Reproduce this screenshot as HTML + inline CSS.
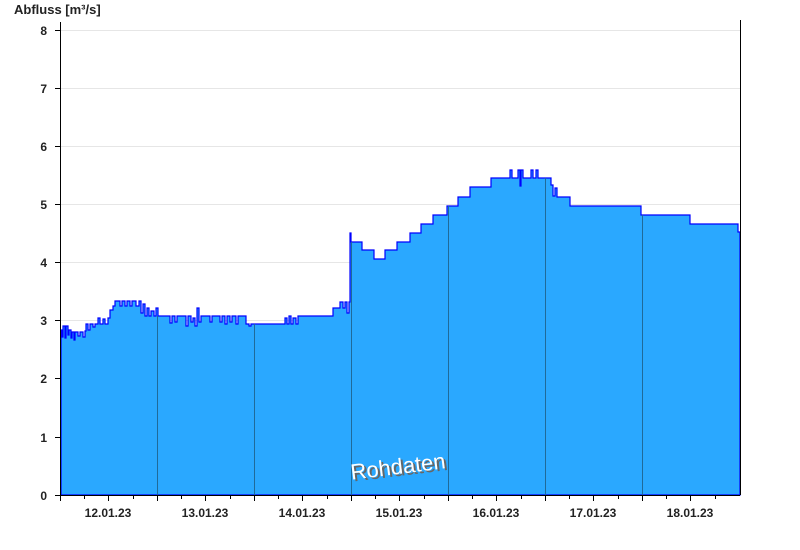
<!DOCTYPE html>
<html><head><meta charset="utf-8"><style>
html,body{margin:0;padding:0;background:#fff;}
svg{display:block;font-family:"Liberation Sans",Arial,sans-serif;}
</style></head><body>
<svg width="800" height="550" viewBox="0 0 800 550">
<g stroke="#e6e6e6" stroke-width="1">
<line x1="61" y1="30.5" x2="740" y2="30.5"/><line x1="61" y1="88.5" x2="740" y2="88.5"/>
<line x1="61" y1="146.5" x2="740" y2="146.5"/><line x1="61" y1="204.5" x2="740" y2="204.5"/>
<line x1="61" y1="262.5" x2="740" y2="262.5"/><line x1="61" y1="320.5" x2="740" y2="320.5"/>
<line x1="61" y1="378.5" x2="740" y2="378.5"/><line x1="61" y1="437.5" x2="740" y2="437.5"/>
</g>
<path fill="#2aa8ff" stroke="#0000ff" stroke-width="1.2" stroke-linejoin="miter" d="
M61,495 V330 H62 V337 H63 V326 H65 V338 H66 V326 H68 V335 H69 V330 H71 V338 H72 V332 H74 V340 H75 V332 H78 V336 H80 V332 H83 V337 H85 V331 H86 V324 H88 V330 H90 V324 H93 V327 H95 V324 H98 V318 H100 V324 H103 V319 H105 V324 H108 V318 H110 V310 H113 V306 H115 V301 H120 V306 H122 V301 H125 V306 H127 V301 H130 V306 H132 V301 H136 V306 H139 V301 H141 V313 H143 V304 H145 V316 H147 V308 H149 V316 H151 V311 H154 V316 H156 V308 H158 V316 H170 V323 H172 V316 H175 V322 H177 V316 H186 V326 H188 V316 H191 V322 H193 V318 H195 V326 H197 V308 H199 V322 H201 V316 H210 V322 H212 V316 H220 V322 H222 V316 H225 V324 H227 V316 H230 V322 H232 V316 H236 V324 H238 V316 H246 V324 H249 V326 H251 V324 H285 V318 H287 V324 H289 V316 H291 V324 H293 V318 H296 V324 H298 V316 H333 V308 H340 V302 H343 V308 H345 V302 H347 V313 H349 V302 H350 V233 H351 V242 H362 V250 H374 V259 H385 V250 H397 V242 H410 V233 H421 V224 H433 V215 H447 V206 H458 V197 H470 V187 H491 V178 H510 V170 H512 V178 H518 V170 H520 V186 H521 V170 H523 V178 H531 V170 H533 V178 H536 V170 H538 V178 H551 V185 H553 V196 H555 V188 H557 V197 H570 V206 H641 V215 H690 V224 H738 V232 H740 V495 Z"/>
<g stroke="#1f6a9a" stroke-width="1">
<line x1="157.5" y1="316" x2="157.5" y2="495"/><line x1="254.5" y1="324" x2="254.5" y2="495"/>
<line x1="351.5" y1="242" x2="351.5" y2="495"/><line x1="448.5" y1="206" x2="448.5" y2="495"/>
<line x1="545.5" y1="178" x2="545.5" y2="495"/><line x1="642.5" y1="215" x2="642.5" y2="495"/>
</g>
<line x1="740.5" y1="20" x2="740.5" y2="495" stroke="#000"/>
<line x1="60.5" y1="22" x2="60.5" y2="501" stroke="#000"/>
<line x1="55" y1="495.5" x2="740" y2="495.5" stroke="#000"/>
<g stroke="#000">
<line x1="55" y1="30.5" x2="60" y2="30.5"/><line x1="55" y1="88.5" x2="60" y2="88.5"/>
<line x1="55" y1="146.5" x2="60" y2="146.5"/><line x1="55" y1="204.5" x2="60" y2="204.5"/>
<line x1="55" y1="262.5" x2="60" y2="262.5"/><line x1="55" y1="320.5" x2="60" y2="320.5"/>
<line x1="55" y1="378.5" x2="60" y2="378.5"/><line x1="55" y1="437.5" x2="60" y2="437.5"/>
</g>
<g stroke="#000">
<line x1="84.5" y1="495" x2="84.5" y2="499"/><line x1="108.5" y1="495" x2="108.5" y2="501"/><line x1="133.5" y1="495" x2="133.5" y2="499"/><line x1="157.5" y1="495" x2="157.5" y2="501"/>
<line x1="181.5" y1="495" x2="181.5" y2="499"/><line x1="205.5" y1="495" x2="205.5" y2="501"/><line x1="230.5" y1="495" x2="230.5" y2="499"/><line x1="254.5" y1="495" x2="254.5" y2="501"/>
<line x1="278.5" y1="495" x2="278.5" y2="499"/><line x1="302.5" y1="495" x2="302.5" y2="501"/><line x1="327.5" y1="495" x2="327.5" y2="499"/><line x1="351.5" y1="495" x2="351.5" y2="501"/>
<line x1="375.5" y1="495" x2="375.5" y2="499"/><line x1="399.5" y1="495" x2="399.5" y2="501"/><line x1="424.5" y1="495" x2="424.5" y2="499"/><line x1="448.5" y1="495" x2="448.5" y2="501"/>
<line x1="472.5" y1="495" x2="472.5" y2="499"/><line x1="496.5" y1="495" x2="496.5" y2="501"/><line x1="521.5" y1="495" x2="521.5" y2="499"/><line x1="545.5" y1="495" x2="545.5" y2="501"/>
<line x1="569.5" y1="495" x2="569.5" y2="499"/><line x1="593.5" y1="495" x2="593.5" y2="501"/><line x1="618.5" y1="495" x2="618.5" y2="499"/><line x1="642.5" y1="495" x2="642.5" y2="501"/>
<line x1="666.5" y1="495" x2="666.5" y2="499"/><line x1="690.5" y1="495" x2="690.5" y2="501"/><line x1="715.5" y1="495" x2="715.5" y2="499"/>
</g>
<g font-size="12" font-weight="bold" fill="#222" text-anchor="end">
<text x="47" y="35">8</text><text x="47" y="93">7</text><text x="47" y="151">6</text><text x="47" y="209">5</text>
<text x="47" y="267">4</text><text x="47" y="325">3</text><text x="47" y="383">2</text><text x="47" y="442">1</text><text x="47" y="500">0</text>
</g>
<g font-size="12" font-weight="bold" fill="#222" text-anchor="middle">
<text x="108" y="517">12.01.23</text><text x="205" y="517">13.01.23</text><text x="302" y="517">14.01.23</text>
<text x="399" y="517">15.01.23</text><text x="496" y="517">16.01.23</text><text x="593" y="517">17.01.23</text><text x="690" y="517">18.01.23</text>
</g>
<text x="14" y="14" font-size="13" font-weight="bold" fill="#222">Abfluss [m³/s]</text>
<g transform="rotate(-7 398 467)" font-size="22">
<text x="400" y="476" text-anchor="middle" fill="#666">Rohdaten</text>
<text x="398" y="474" text-anchor="middle" fill="#fff">Rohdaten</text>
</g>
</svg>
</body></html>
